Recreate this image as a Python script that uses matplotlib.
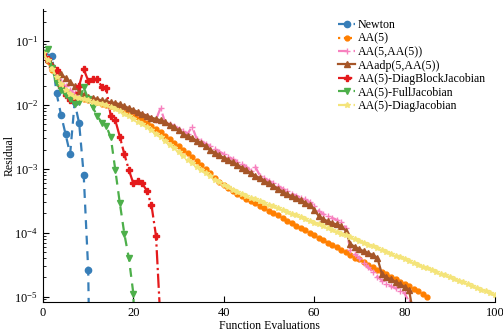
import numpy as np
import matplotlib
matplotlib.use("Agg")
import matplotlib.pyplot as plt

plt.rcParams['font.family'] = ['Liberation Serif', 'DejaVu Serif']
plt.rcParams['mathtext.fontset'] = 'stix'

# residuals, stored as log10(residual)
newton_x = [0, 2, 3, 4, 5, 6, 7, 8, 9, 10, 11]
newton_log = [-1.19, -1.23, -1.82, -2.16, -2.46, -2.77, -1.96, -2.29, -3.09, -4.58, -9.5]

aa5_log = [-1.19, -1.32, -1.45, -1.58, -1.70, -1.78, -1.84, -1.87, -1.89, -1.91,
           -1.92, -1.94, -1.96, -1.98, -2.00, -2.02, -2.04, -2.07, -2.10, -2.12,
           -2.15, -2.19, -2.23, -2.28, -2.33, -2.38, -2.43, -2.48, -2.54, -2.60,
           -2.65, -2.70, -2.76, -2.82, -2.88, -2.94, -3.01, -3.07, -3.14, -3.20,
           -3.25, -3.30, -3.35, -3.39, -3.43, -3.47, -3.51, -3.54, -3.58, -3.62,
           -3.66, -3.70, -3.73, -3.77, -3.81, -3.85, -3.89, -3.92, -3.96, -4.00,
           -4.04, -4.08, -4.12, -4.16, -4.20, -4.23, -4.27, -4.31, -4.35, -4.39,
           -4.42, -4.46, -4.50, -4.54, -4.58, -4.62, -4.65, -4.69, -4.73, -4.77,
           -4.81, -4.84, -4.88, -4.92, -4.96, -5.00]

aa5aa5_log = [-1.19, -1.30, -1.42, -1.53, -1.63, -1.71, -1.77, -1.82, -1.85, -1.87,
              -1.89, -1.91, -1.93, -1.95, -1.96, -1.98, -2.00, -2.02, -2.04, -2.06,
              -2.09, -2.12, -2.15, -2.18, -2.20, -2.23, -2.05, -2.27, -2.30, -2.33,
              -2.37, -2.41, -2.45, -2.34, -2.53, -2.57, -2.61, -2.65, -2.69, -2.73,
              -2.77, -2.81, -2.85, -2.89, -2.93, -2.97, -3.03, -2.97, -3.11, -3.15,
              -3.19, -3.23, -3.27, -3.31, -3.35, -3.39, -3.42, -3.45, -3.48, -3.52,
              -3.58, -3.66, -3.71, -3.74, -3.77, -3.80, -3.84, -3.92, -4.27, -4.33,
              -4.40, -4.47, -4.54, -4.62, -4.69, -4.75, -4.80, -4.84, -4.87, -4.91,
              -4.95, -5.08, -5.60]

aaadp_log = [-1.19, -1.28, -1.37, -1.45, -1.52, -1.58, -1.64, -1.71, -1.78, -1.84,
             -1.87, -1.89, -1.91, -1.93, -1.94, -1.96, -1.97, -1.99, -2.02, -2.05,
             -2.08, -2.11, -2.14, -2.17, -2.20, -2.22, -2.24, -2.27, -2.31, -2.35,
             -2.40, -2.45, -2.49, -2.52, -2.56, -2.60, -2.65, -2.70, -2.75, -2.79,
             -2.83, -2.86, -2.90, -2.94, -2.98, -3.02, -3.07, -3.11, -3.15, -3.19,
             -3.23, -3.27, -3.31, -3.36, -3.40, -3.43, -3.46, -3.49, -3.53, -3.57,
             -3.64, -3.74, -3.79, -3.82, -3.85, -3.87, -3.90, -3.97, -4.18, -4.22,
             -4.26, -4.29, -4.32, -4.35, -4.40, -4.65, -4.70, -4.73, -4.77, -4.81,
             -4.85, -4.90, -5.30, -6.20]

diagblock_log = [-1.18, -1.28, -1.40, -1.46, -1.72, -1.85, -1.92, -1.89, -1.70, -1.44,
                 -1.62, -1.59, -1.59, -1.72, -1.74, -2.18, -2.24, -2.50, -2.77, -3.02,
                 -3.23, -3.19, -3.23, -3.35, -3.57, -4.05, -5.40]

fulljac_log = [-1.19, -1.13, -1.43, -1.66, -1.77, -1.85, -1.90, -1.99, -1.96, -1.72,
               -1.91, -2.04, -2.17, -2.28, -2.33, -2.51, -3.02, -3.54, -4.02, -4.40,
               -4.96, -8.0]

diagjac_log = [-1.19, -1.30, -1.44, -1.56, -1.68, -1.76, -1.83, -1.87, -1.89, -1.91,
               -1.93, -1.95, -1.97, -1.98, -2.00, -2.03, -2.06, -2.10, -2.14, -2.18,
               -2.22, -2.26, -2.30, -2.35, -2.40, -2.45, -2.51, -2.57, -2.62, -2.68,
               -2.74, -2.80, -2.86, -2.91, -2.97, -3.02, -3.07, -3.12, -3.17, -3.21,
               -3.25, -3.29, -3.33, -3.36, -3.39, -3.42, -3.45, -3.48, -3.51, -3.54,
               -3.56, -3.59, -3.62, -3.65, -3.68, -3.71, -3.73, -3.76, -3.79, -3.82,
               -3.85, -3.87, -3.90, -3.93, -3.96, -3.99, -4.02, -4.04, -4.07, -4.10,
               -4.13, -4.16, -4.19, -4.21, -4.24, -4.27, -4.30, -4.33, -4.36, -4.38,
               -4.41, -4.44, -4.47, -4.50, -4.53, -4.55, -4.58, -4.61, -4.64, -4.67,
               -4.70, -4.72, -4.75, -4.78, -4.81, -4.84, -4.87, -4.89, -4.92, -4.95,
               -4.98]

series = [
    ("Newton", newton_x, newton_log, '#377eb8', (0, (4, 3)), 'o', 4.5),
    ("AA(5)", None, aa5_log, '#ff7f00', ':', 'o', 3.5),
    ("AA(5,AA(5))", None, aa5aa5_log, '#f781bf', (0, (4, 3)), '+', 4.5),
    ("AAadp(5,AA(5))", None, aaadp_log, '#a65628', '-', '^', 5),
    ("AA(5)-DiagBlockJacobian", None, diagblock_log, '#e41a1c', '-.', 'P', 4.8),
    ("AA(5)-FullJacobian", None, fulljac_log, '#4daf4a', (0, (4, 3)), 'v', 5),
    ("AA(5)-DiagJacobian", None, diagjac_log, '#f4e47a', (0, (4, 3)), '*', 4),
]

fig = plt.figure(figsize=(5.03, 3.31), dpi=100)
ax = fig.add_axes([0.0855, 0.0885, 0.8985, 0.884])

for name, xs, logs, color, ls, mk, ms in series:
    if xs is None:
        xs = list(range(len(logs)))
    ax.semilogy(xs, 10.0 ** np.array(logs), color=color, linestyle=ls, marker=mk,
                markersize=ms, linewidth=1.6, label=name)

ax.set_xlim(0, 100)
ax.set_ylim(8.3e-6, 0.316)
ax.spines['top'].set_visible(False)
ax.spines['right'].set_visible(False)
ax.tick_params(which='both', direction='in', labelsize=9)
ax.tick_params(which='major', length=4)
ax.tick_params(which='minor', length=2)
ax.set_xlabel('Function Evaluations', fontsize=8.5, labelpad=1)
ax.set_ylabel('Residual', fontsize=8.5, labelpad=-1)

ax.legend(loc='upper left', bbox_to_anchor=(0.653, 0.965), frameon=False,
          fontsize=8.6, handlelength=1.45, handletextpad=0.2, labelspacing=0.12,
          borderpad=0, borderaxespad=0, numpoints=1)

fig.savefig('out.png', dpi=100)
